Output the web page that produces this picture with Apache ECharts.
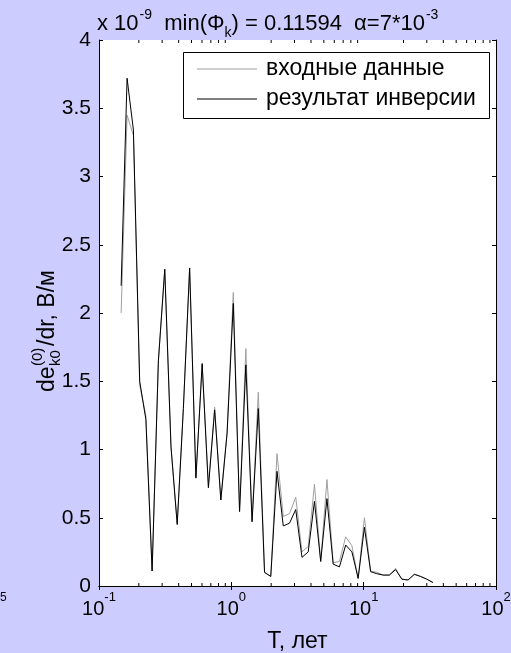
<!DOCTYPE html>
<html>
<head>
<meta charset="utf-8">
<script src="https://cdn.jsdelivr.net/npm/echarts@6/dist/echarts.min.js"></script>
<style>
  html, body { margin: 0; padding: 0; background: #ccccff; }
  #chart { width: 511px; height: 653px; }
</style>
</head>
<body>
<div id="chart"></div>
<script>
// периоды T, лет
const periods = [
  0.147, 0.163, 0.182, 0.203, 0.226, 0.252, 0.281, 0.314, 0.350, 0.390,
  0.434, 0.484, 0.540, 0.602, 0.671, 0.748, 0.833, 0.929, 1.035, 1.154,
  1.287, 1.434, 1.599, 1.782, 1.986, 2.214, 2.468, 2.751, 3.067, 3.419,
  3.811, 4.248, 4.735, 5.279, 5.884, 6.559, 7.312, 8.150, 9.085, 10.13,
  11.29, 12.58, 14.03, 15.64, 17.43, 19.43, 21.66, 24.14, 26.91, 30.0,
  33.4
];
// входные данные (x 10^-9)
const inputData = [
  2.00, 3.45, 3.30, 1.47, 1.25, 0.11, 1.65, 2.32, 1.02, 0.46,
  1.30, 2.33, 0.80, 1.62, 0.73, 1.31, 0.63, 1.13, 2.15, 0.55,
  1.74, 0.48, 1.42, 0.10, 0.07, 0.97, 0.51, 0.53, 0.65, 0.25,
  0.29, 0.745, 0.18, 0.78, 0.17, 0.18, 0.36, 0.295, 0.056, 0.50,
  0.11, 0.10, 0.08, 0.08, 0.13, 0.05, 0.044, 0.088, 0.07, 0.05,
  0.025
];
// результат инверсии (x 10^-9)
const inversionData = [
  2.20, 3.72, 3.34, 1.50, 1.22, 0.11, 1.65, 2.32, 1.02, 0.45,
  1.30, 2.33, 0.79, 1.63, 0.72, 1.29, 0.63, 1.12, 2.07, 0.545,
  1.62, 0.47, 1.30, 0.10, 0.07, 0.84, 0.44, 0.46, 0.56, 0.21,
  0.25, 0.62, 0.18, 0.64, 0.16, 0.14, 0.30, 0.25, 0.056, 0.43,
  0.105, 0.09, 0.08, 0.08, 0.12, 0.05, 0.044, 0.085, 0.07, 0.05,
  0.025
];
const legendNames = ['входные данные', 'результат инверсии'];

const FONT = 'Arial, "Liberation Sans", sans-serif';
const chart = echarts.init(document.getElementById('chart'));

const toPairs = (ys) => periods.map((t, i) => [t, ys[i]]);

const tickStyle = { show: true, inside: true, length: 4, lineStyle: { color: '#000', width: 1 } };
const lineStyle = { show: true, lineStyle: { color: '#000', width: 1 } };

chart.setOption({
  animation: false,
  backgroundColor: '#ccccff',
  title: {
    text: '{n|x 10}{sup|-9}{n|  min(Φ}{sub|k}{n|) = 0.11594  α=7*10}{sup|-3}',
    left: 97,
    top: 8,
    padding: 0,
    textStyle: {
      rich: {
        n: { fontFamily: FONT, fontSize: 22, fontWeight: 'normal', color: '#000', lineHeight: 32, verticalAlign: 'middle' },
        sup: { fontFamily: FONT, fontSize: 14, fontWeight: 'normal', color: '#000', lineHeight: 32, verticalAlign: 'top', padding: [0, 0, 0, 1] },
        sub: { fontFamily: FONT, fontSize: 14, fontWeight: 'normal', color: '#000', lineHeight: 32, verticalAlign: 'bottom' },
      },
    },
  },
  grid: {
    left: 99, right: 15, top: 40, bottom: 67,
    show: true, backgroundColor: '#fff', borderWidth: 0,
    containLabel: false, outerBoundsMode: 'none',
  },
  legend: {
    data: legendNames,
    orient: 'vertical',
    left: 183,
    top: 52,
    z: 10,
    padding: [5, 10, 5, 14],
    itemGap: 6,
    itemWidth: 60,
    itemHeight: 1,
    icon: 'rect',
    textStyle: { fontFamily: FONT, fontSize: 23, lineHeight: 24, color: '#000', padding: [0, 0, 0, 4] },
  },
  xAxis: [
    {
      type: 'log',
      logBase: 10,
      min: 0.1,
      max: 100,
      position: 'bottom',
      axisLine: lineStyle,
      axisTick: tickStyle,
      splitLine: { show: false },
      axisLabel: {
        margin: 5,
        formatter: (v) => '{b|10}{s|' + Math.round(Math.log10(v)) + '}',
        rich: {
          b: { fontFamily: FONT, fontSize: 20, color: '#000', lineHeight: 28, verticalAlign: 'bottom' },
          s: { fontFamily: FONT, fontSize: 13, color: '#000', lineHeight: 28, verticalAlign: 'top' },
        },
      },
      name: 'T, лет',
      nameLocation: 'middle',
      nameGap: 44,
      nameTextStyle: { fontFamily: FONT, fontSize: 23, color: '#000' },
    },
    {
      type: 'log',
      logBase: 10,
      min: 0.1,
      max: 100,
      position: 'top',
      axisLine: lineStyle,
      axisTick: tickStyle,
      axisLabel: { show: false },
      splitLine: { show: false },
    },
  ],
  yAxis: [
    {
      type: 'value',
      min: 0,
      max: 4,
      interval: 0.5,
      position: 'left',
      axisLine: lineStyle,
      axisTick: tickStyle,
      splitLine: { show: false },
      axisLabel: { margin: 8, fontFamily: FONT, fontSize: 21, color: '#000' },
    },
    {
      type: 'value',
      min: 0,
      max: 4,
      interval: 0.5,
      position: 'right',
      axisLine: lineStyle,
      axisTick: tickStyle,
      splitLine: { show: false },
      axisLabel: { show: false },
    },
  ],
  series: [
    {
      name: legendNames[0],
      type: 'line',
      symbol: 'none',
      data: toPairs(inputData),
      color: '#a0a0a0',
      lineStyle: { color: '#a0a0a0', width: 1 },
      z: 2,
    },
    {
      name: legendNames[1],
      type: 'line',
      symbol: 'none',
      data: toPairs(inversionData),
      color: '#000',
      lineStyle: { color: '#000', width: 1 },
      z: 3,
    },
  ],
});

// малые деления логарифмической оси, рамка легенды, подпись оси Y
const yBottom = chart.convertToPixel({ yAxisIndex: 0 }, 0);
const yTop = chart.convertToPixel({ yAxisIndex: 0 }, 4);
const minor = [];
[-1, 0, 1].forEach((k) => {
  for (let m = 2; m <= 9; m++) {
    const x = chart.convertToPixel({ xAxisIndex: 0 }, m * Math.pow(10, k));
    minor.push({ type: 'line', shape: { x1: x, y1: yBottom, x2: x, y2: yBottom - 3 }, style: { stroke: '#000', lineWidth: 1 }, z: 5 });
    minor.push({ type: 'line', shape: { x1: x, y1: yTop, x2: x, y2: yTop + 3 }, style: { stroke: '#000', lineWidth: 1 }, z: 5 });
  }
});

const axisFont = (size) => size + 'px ' + FONT;

chart.setOption({
  graphic: [
    ...minor,
    {
      type: 'rect',
      shape: { x: 183.5, y: 52.5, width: 306, height: 66 },
      style: { fill: '#fff', stroke: '#000', lineWidth: 1 },
      z: 6,
    },
    {
      type: 'group',
      x: 48,
      y: 392,
      rotation: Math.PI / 2,
      children: [
        { type: 'text', x: 0, y: 0, style: { text: 'de', font: axisFont(23), fill: '#000', verticalAlign: 'middle' } },
        { type: 'text', x: 26, y: 8, style: { text: 'k0', font: axisFont(15), fill: '#000', verticalAlign: 'middle' } },
        { type: 'text', x: 26, y: -10, style: { text: '(0)', font: axisFont(15), fill: '#000', verticalAlign: 'middle' } },
        { type: 'text', x: 46, y: 0, style: { text: '/dr, В/м', font: axisFont(23), fill: '#000', verticalAlign: 'middle' } },
      ],
    },
    {
      type: 'text',
      x: 0,
      y: 592,
      style: { text: '5', font: axisFont(12), fill: '#000' },
    },
  ],
});
</script>
</body>
</html>
